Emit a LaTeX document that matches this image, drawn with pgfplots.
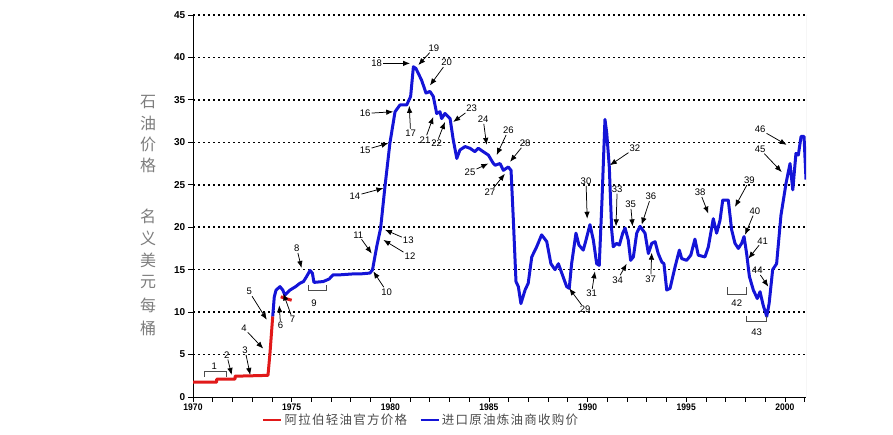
\documentclass[border=0pt]{standalone}
\usepackage{graphicx}
\usepackage{pgfplots}
\pgfplotsset{compat=1.18}
\usetikzlibrary{arrows.meta}
\usepackage{fontspec}
\setmainfont{Liberation Sans}
\newfontfamily\cjk{Noto Sans CJK SC}
\newfontfamily\cjkleg{Noto Sans CJK SC}[LetterSpace=10]
\definecolor{oilblue}{RGB}{20,20,215}
\definecolor{oilred}{RGB}{225,25,25}
\definecolor{labgray}{RGB}{125,125,125}

\pgfplotstableread{
x y
1970.00 1.75
1971.20 1.75
1971.20 2.10
1972.13 2.10
1972.13 2.45
1973.00 2.50
1973.80 2.55
1973.90 5.10
1974.04 9.50
}\redA

\pgfplotstableread{
x y
1974.45 11.8
1974.70 11.6
1975.00 11.4
}\redB

\pgfplotstableread{
x y
1974.04 9.5
1974.12 11.8
1974.21 12.6
1974.41 13.0
1974.55 12.6
1974.66 12.0
1974.92 12.6
1975.20 13.0
1975.42 13.4
1975.60 13.6
1975.76 14.2
1975.93 14.9
1976.05 14.6
1976.13 13.5
1976.60 13.6
1976.90 13.9
1977.11 14.4
1977.50 14.4
1978.12 14.5
1978.50 14.5
1978.97 14.6
1979.10 15.0
1979.31 17.7
1979.51 19.9
1979.73 24.8
1979.98 29.9
1980.24 33.6
1980.49 34.4
1980.83 34.4
1981.03 35.4
1981.17 38.9
1981.30 38.7
1981.59 37.3
1981.81 35.8
1982.01 36.0
1982.18 35.4
1982.35 33.4
1982.52 33.6
1982.60 32.8
1982.77 33.4
1983.03 32.8
1983.19 30.3
1983.37 28.1
1983.53 29.1
1983.79 29.5
1984.04 29.3
1984.29 28.9
1984.46 29.3
1984.71 28.9
1984.97 28.5
1985.20 27.6
1985.31 27.3
1985.56 27.5
1985.73 26.7
1985.98 27.1
1986.12 26.7
1986.23 21.2
1986.37 13.6
1986.49 13.0
1986.62 11.0
1986.83 12.6
1986.99 13.4
1987.17 16.5
1987.42 17.7
1987.67 19.1
1987.93 18.3
1988.14 15.7
1988.35 15.0
1988.52 15.7
1988.69 14.6
1988.94 13.0
1989.07 12.8
1989.19 15.7
1989.41 19.3
1989.56 17.9
1989.78 17.3
1989.92 18.5
1990.12 20.3
1990.29 18.5
1990.46 15.7
1990.59 15.5
1990.73 23.2
1990.88 32.7
1990.97 31.1
1991.10 27.1
1991.22 19.7
1991.30 17.7
1991.47 18.1
1991.61 17.9
1991.78 19.3
1991.90 19.9
1992.06 18.5
1992.18 16.1
1992.32 16.5
1992.49 19.3
1992.66 20.1
1992.91 19.3
1993.08 16.9
1993.25 18.1
1993.42 18.3
1993.58 16.9
1993.76 15.9
1993.87 15.7
1994.01 12.6
1994.18 12.8
1994.43 15.3
1994.65 17.3
1994.77 16.3
1995.02 16.1
1995.23 16.7
1995.44 18.6
1995.61 16.7
1995.95 16.5
1996.12 17.7
1996.37 21.0
1996.54 19.3
1996.71 20.8
1996.85 23.2
1997.13 23.2
1997.30 19.7
1997.47 18.1
1997.64 17.5
1997.81 18.1
1997.93 18.9
1998.06 16.9
1998.20 14.2
1998.40 12.6
1998.60 11.6
1998.74 12.4
1998.90 10.8
1999.08 9.5
1999.20 11.0
1999.38 15.0
1999.58 15.7
1999.80 21.4
2000.06 25.2
2000.26 27.5
2000.40 24.4
2000.56 28.7
2000.68 28.5
2000.82 30.7
2000.97 30.7
2001.07 25.6
}\blue

\newcommand{\ann}[5]{%
  \node[font=\fontsize{9.5}{10}\selectfont, inner sep=1pt] (a#1) at (axis cs:#2,#3) {#1};
  \draw[line width=0.75pt, -{Latex[length=7pt,width=5.5pt]}] (a#1) -- (axis cs:#4,#5);
}
\newcommand{\xl}[1]{\scalebox{0.9}[1]{#1}}

\begin{document}
\begin{tikzpicture}[x=1pt,y=1pt]
\useasboundingbox (0,0) rectangle (893,435);
\begin{axis}[
  at={(193pt,38pt)}, anchor=south west, scale only axis,
  width=613pt, height=382pt,
  xmin=1970, xmax=2001.07, ymin=0, ymax=45,
  axis lines=left, axis line style={-, line width=0.9pt},
  tick align=outside,
  major tick length=5pt, minor tick length=5pt,
  tick style={black, line width=0.8pt},
  xtick={1970,1975,1980,1985,1990,1995,2000},
  xticklabels={\xl{1970},\xl{1975},\xl{1980},\xl{1985},\xl{1990},\xl{1995},\xl{2000}},
  minor xtick={1971,1972,1973,1974,1976,1977,1978,1979,1981,1982,1983,1984,1986,1987,1988,1989,1991,1992,1993,1994,1996,1997,1998,1999,2001},
  ytick={5,10,...,45},
  extra y ticks={0}, extra y tick style={grid=none},
  ymajorgrids,
  major grid style={black, line width=1.6pt, dash pattern=on 2.3pt off 2.7pt},
  /pgf/number format/assume math mode=true,
  xticklabel style={font=\fontsize{9.5}{10}\selectfont\bfseries, inner sep=1.5pt},
  yticklabel style={font=\fontsize{10}{11}\selectfont\bfseries, inner sep=2.5pt},
  legend style={at={(0.372,-0.06)}, anchor=center, draw=none, fill=none,
    font=\cjkleg\fontsize{12.5}{13}\selectfont, text=black!70,
    /tikz/every even column/.append style={column sep=10pt}},
  legend columns=2,
  legend image code/.code={\draw[#1, line width=2.8pt] (0pt,0pt) -- (18pt,0pt);},
]
\addplot[oilred, line width=3pt, line join=round] table {\redA};
\addlegendentry{阿拉伯轻油官方价格}
\addplot[oilblue, line width=3pt, line join=round] table {\blue};
\addlegendentry{进口原油炼油商收购价}
\addplot[oilred, line width=3pt, line join=round, forget plot] table {\redB};

\draw[gray!55, line width=0.6pt] (rel axis cs:1,0) -- (rel axis cs:1,1);

% brackets
\draw[black!70, line width=0.9pt] (axis cs:1970.6,2.4) -- (axis cs:1970.6,3.06) -- (axis cs:1971.7,3.06) -- (axis cs:1971.7,2.4);
\node[font=\fontsize{9.5}{10}\selectfont, inner sep=1pt] at (axis cs:1971.08,3.6) {1};
\draw[black!70, line width=0.9pt] (axis cs:1975.84,13.2) -- (axis cs:1975.84,12.6) -- (axis cs:1976.78,12.6) -- (axis cs:1976.78,13.2);
\node[font=\fontsize{9.5}{10}\selectfont, inner sep=1pt] at (axis cs:1976.13,11.1) {9};
\draw[black!70, line width=0.9pt] (axis cs:1997.1,12.9) -- (axis cs:1997.1,12.13) -- (axis cs:1998.03,12.13) -- (axis cs:1998.03,12.9);
\node[font=\fontsize{9.5}{10}\selectfont, inner sep=1pt] at (axis cs:1997.56,11.0) {42};
\draw[black!70, line width=0.9pt] (axis cs:1998.06,9.6) -- (axis cs:1998.06,8.9) -- (axis cs:1999.08,8.9) -- (axis cs:1999.08,9.6);
\node[font=\fontsize{9.5}{10}\selectfont, inner sep=1pt] at (axis cs:1998.57,7.6) {43};

\ann{2}{1971.71}{4.95}{1971.96}{2.6}
\ann{3}{1972.64}{5.5}{1972.9}{2.6}
\ann{4}{1972.58}{8.1}{1973.56}{5.7}
\ann{5}{1972.85}{12.4}{1973.74}{9.1}
\ann{6}{1974.44}{8.4}{1974.37}{10.8}
\ann{7}{1975.05}{9.15}{1974.58}{12.2}
\ann{8}{1975.26}{17.5}{1975.5}{15.2}
\ann{10}{1979.82}{12.4}{1979.14}{14.8}
\ann{11}{1978.38}{19.1}{1979.06}{16.9}
\ann{12}{1981.0}{16.6}{1979.65}{18.5}
\ann{13}{1980.91}{18.5}{1979.73}{19.7}
\ann{14}{1978.21}{23.7}{1979.65}{24.6}
\ann{15}{1978.72}{29.1}{1979.9}{29.9}
\ann{16}{1978.72}{33.4}{1980.15}{33.6}
\ann{17}{1981.03}{31.1}{1980.96}{34.3}
\ann{18}{1979.31}{39.3}{1981.0}{39.3}
\ann{19}{1982.21}{41.1}{1981.42}{39.1}
\ann{20}{1982.86}{39.4}{1982.01}{36.7}
\ann{21}{1981.76}{30.3}{1982.18}{33.0}
\ann{22}{1982.35}{29.9}{1982.77}{32.4}
\ann{23}{1984.12}{34.0}{1983.19}{32.4}
\ann{24}{1984.71}{32.7}{1984.88}{29.7}
\ann{25}{1984.04}{26.5}{1984.97}{27.5}
\ann{26}{1985.98}{31.4}{1985.39}{28.5}
\ann{27}{1985.05}{24.1}{1985.81}{26.3}
\ann{28}{1986.83}{29.9}{1986.07}{27.7}
\ann{29}{1989.87}{10.3}{1989.07}{12.8}
\ann{30}{1989.92}{25.4}{1989.98}{21.0}
\ann{31}{1990.2}{12.2}{1990.37}{14.8}
\ann{32}{1992.4}{29.3}{1991.13}{27.3}
\ann{33}{1991.5}{24.5}{1991.44}{20.1}
\ann{34}{1991.52}{13.8}{1991.98}{15.7}
\ann{35}{1992.18}{22.7}{1992.28}{20.1}
\ann{36}{1993.21}{23.6}{1992.74}{20.3}
\ann{37}{1993.2}{13.9}{1993.25}{17.0}
\ann{38}{1995.7}{24.1}{1996.12}{21.6}
\ann{39}{1998.2}{25.5}{1997.47}{22.4}
\ann{40}{1998.48}{21.9}{1997.98}{19.1}
\ann{41}{1998.87}{18.4}{1998.15}{16.3}
\ann{44}{1998.6}{14.9}{1999.16}{13.0}
\ann{45}{1998.74}{29.2}{1999.84}{26.5}
\ann{46}{1998.74}{31.5}{2000.09}{29.7}
\end{axis}

\foreach \c/\yy in {石/333, 油/312, 价/291, 格/270, 名/219, 义/197, 美/175, 元/153, 每/130, 桶/107}
  \node[font=\cjk\fontsize{16}{17}\selectfont, text=labgray, inner sep=0pt] at (148,\yy) {\c};
\end{tikzpicture}
\end{document}
